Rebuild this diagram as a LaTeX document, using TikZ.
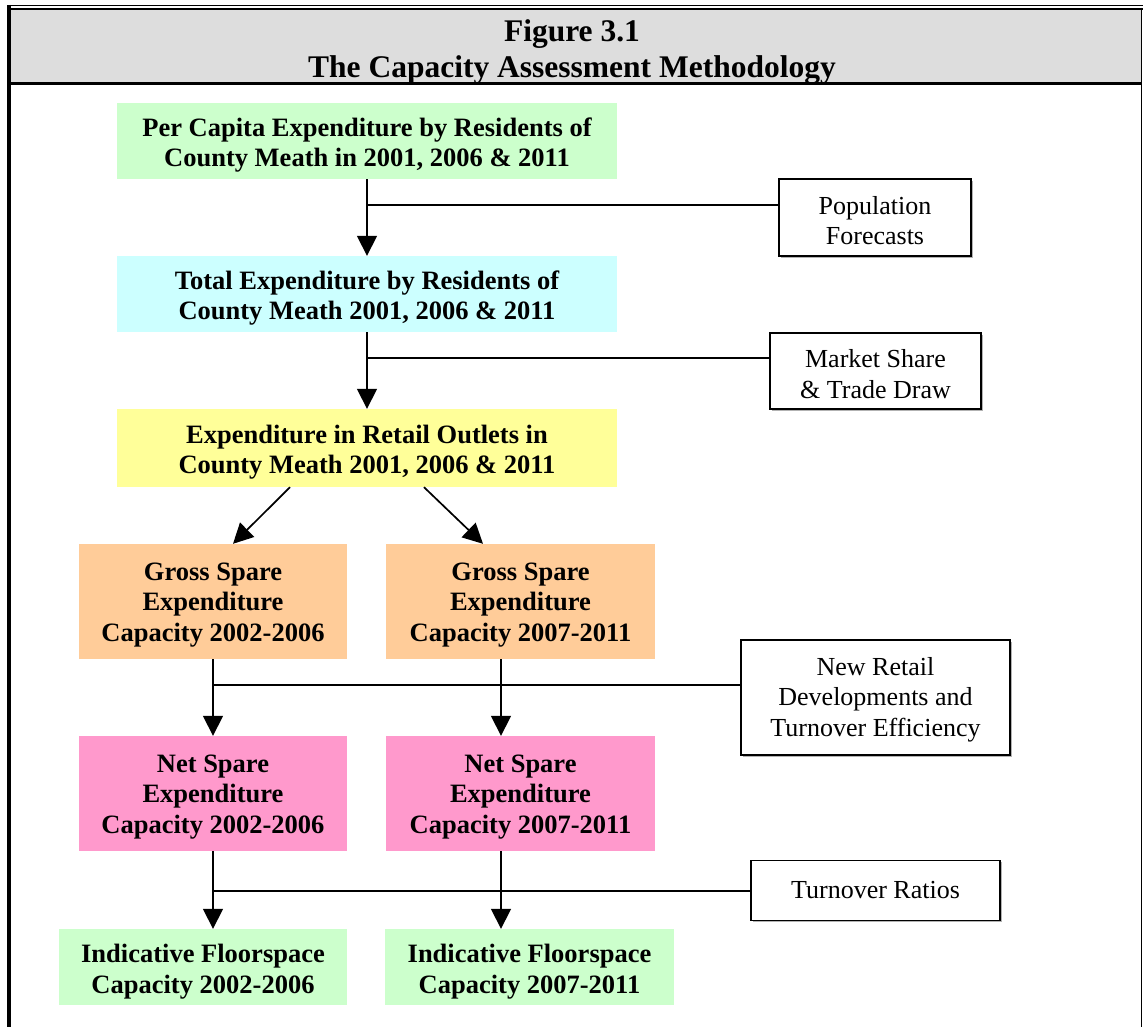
\documentclass[tikz,border=0pt]{standalone}
\usepackage{fontspec}
\setmainfont{Liberation Serif}
\usetikzlibrary{arrows.meta,shadows,calc}
\definecolor{cgreen}{HTML}{CCFFCC}
\definecolor{ccyan}{HTML}{CCFFFF}
\definecolor{cyellow}{HTML}{FFFF99}
\definecolor{cpeach}{HTML}{FFCC99}
\definecolor{cpink}{HTML}{FF99CC}
\definecolor{hgray}{HTML}{DDDDDD}
\newcommand\dnstrut[1]{\rule{0pt}{#1}}
\tikzset{
  flowbox/.style={rectangle, inner sep=0pt, align=center,
    font=\fontsize{26.5}{30.5}\selectfont\bfseries},
  sidebox/.style={rectangle, draw=black, line width=1.6pt, fill=white, inner sep=0pt, align=center,
    font=\fontsize{26}{30.5}\selectfont,
    drop shadow={shadow xshift=1.6pt, shadow yshift=-1.6pt, fill=gray!60, opacity=1}},
  conn/.style={line width=1.7pt},
  arr/.style={line width=1.7pt, -{Triangle[width=20pt,length=20pt]}},
}
\begin{document}
\begin{tikzpicture}[x=1pt,y=-1pt]
\useasboundingbox (0,0) rectangle (1143,1027);
% frame and header
\fill[hgray] (11,9.5) rectangle (1141,82);
\draw[line width=1.3pt] (7,5.5) -- (1143,5.5);
\draw[line width=1.5pt] (11,8.8) -- (1143,8.8);
\draw[line width=3pt] (11,83.5) -- (1141,83.5);
\draw[line width=4pt] (9,4.8) -- (9,1027);
\draw[line width=1.5pt] (1141.5,8) -- (1141.5,1027);
\node[font=\fontsize{31.5}{36}\selectfont\bfseries, align=center] (title) at (572,47) {\dnstrut{31pt}Figure 3.1\\The Capacity Assessment Methodology};

% main flow boxes
\node[flowbox, fill=cgreen, minimum width=500pt, minimum height=76pt] (b1) at (367,141) {\dnstrut{26.5pt}Per Capita Expenditure by Residents of\\County Meath in 2001, 2006 \& 2011};
\node[flowbox, fill=ccyan, minimum width=500pt, minimum height=76pt] (b2) at (367,294) {\dnstrut{26.5pt}Total Expenditure by Residents of\\County Meath 2001, 2006 \& 2011};
\node[flowbox, fill=cyellow, minimum width=500pt, minimum height=78pt] (b3) at (367,448) {\dnstrut{26.5pt}Expenditure in Retail Outlets in\\County Meath 2001, 2006 \& 2011};
\node[flowbox, fill=cpeach, minimum width=268pt, minimum height=115pt] (g1) at (213,601.5) {\dnstrut{24.5pt}Gross Spare\\Expenditure\\Capacity 2002-2006};
\node[flowbox, fill=cpeach, minimum width=269pt, minimum height=115pt] (g2) at (520.5,601.5) {\dnstrut{24.5pt}Gross Spare\\Expenditure\\Capacity 2007-2011};
\node[flowbox, fill=cpink, minimum width=268pt, minimum height=115pt] (n1) at (213,793.5) {\dnstrut{24.5pt}Net Spare\\Expenditure\\Capacity 2002-2006};
\node[flowbox, fill=cpink, minimum width=269pt, minimum height=115pt] (n2) at (520.5,793.5) {\dnstrut{24.5pt}Net Spare\\Expenditure\\Capacity 2007-2011};
\node[flowbox, fill=cgreen, minimum width=288pt, minimum height=76pt] (i1) at (203,967) {\dnstrut{28pt}Indicative Floorspace\\Capacity 2002-2006};
\node[flowbox, fill=cgreen, minimum width=289pt, minimum height=76pt] (i2) at (529.5,967) {\dnstrut{28pt}Indicative Floorspace\\Capacity 2007-2011};

% side boxes
\node[sidebox, minimum width=192pt, minimum height=77pt] (pop) at (875,217.5) {\dnstrut{24pt}Population\\Forecasts};
\node[sidebox, minimum width=211pt, minimum height=76pt] (mkt) at (875.5,371) {\dnstrut{24pt}Market Share\\\& Trade Draw};
\node[sidebox, minimum width=269pt, minimum height=115pt] (nrd) at (875.5,697.5) {\dnstrut{22pt}New Retail\\Developments and\\Turnover Efficiency};
\node[sidebox, minimum width=249pt, minimum height=60pt] (tor) at (875.5,890.5) {Turnover Ratios};

% junction points
\coordinate (j1) at (367,205);
\coordinate (j2) at (367,358);
\coordinate (j3) at (213,685);
\coordinate (j4) at (213,891);

% connectors
\draw[arr] (b1.south) -- (b2.north);
\draw[conn] (j1) -- (j1 -| pop.west);
\draw[arr] (b2.south) -- (b3.north);
\draw[conn] (j2) -- (j2 -| mkt.west);
\draw[arr] ([xshift=-77pt]b3.south) -- ([xshift=20pt]g1.north);
\draw[arr] ([xshift=57pt]b3.south) -- ([xshift=-37.5pt]g2.north);
\draw[arr] (g1.south) -- (n1.north);
\draw[arr] ([xshift=-19.5pt]g2.south) -- ([xshift=-19.5pt]n2.north);
\draw[conn] (j3) -- (j3 -| nrd.west);
\draw[arr] (n1.south) -- ([xshift=10pt]i1.north);
\draw[arr] ([xshift=-19.5pt]n2.south) -- ([xshift=-28.5pt]i2.north);
\draw[conn] (j4) -- (j4 -| tor.west);
\end{tikzpicture}
\end{document}
